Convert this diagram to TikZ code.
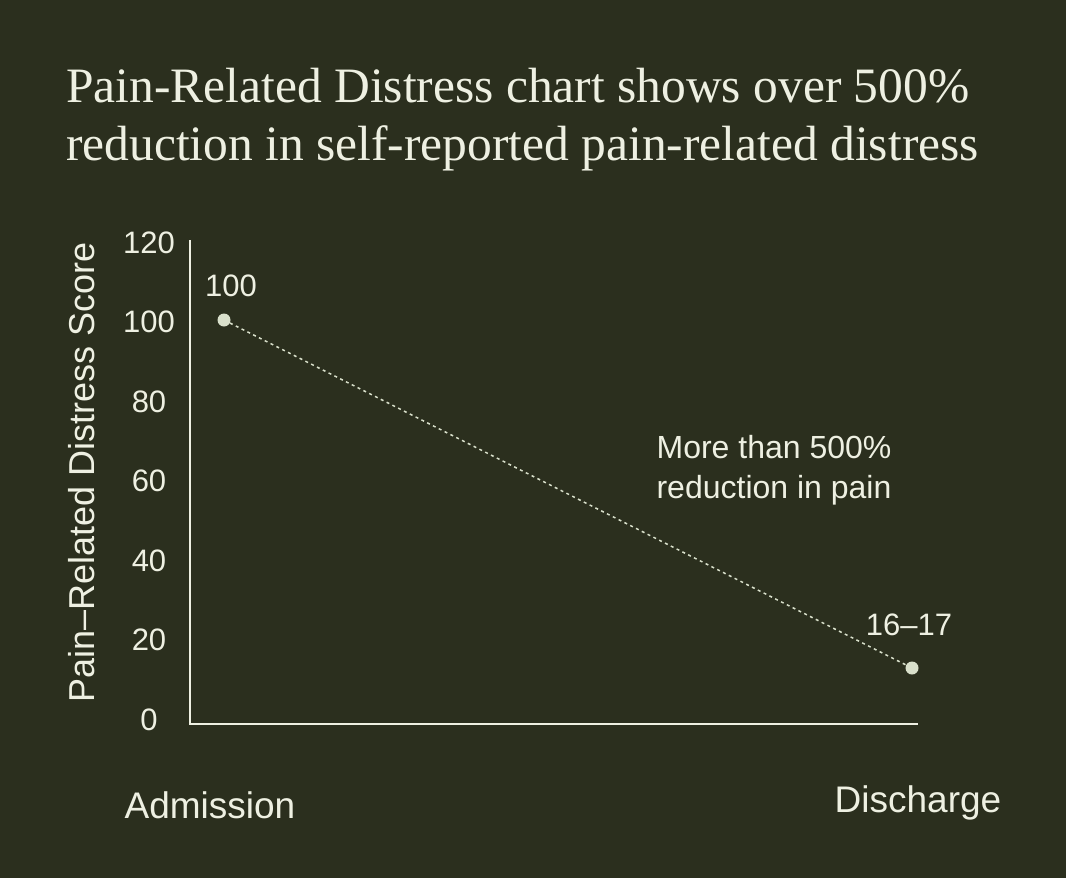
\documentclass[tikz,border=0pt]{standalone}
\usepackage{fontspec}
\setmainfont{Liberation Serif}
\setsansfont{Liberation Sans}
\definecolor{bg}{HTML}{2B2F1E}
\definecolor{fg}{HTML}{EEF0E2}
\definecolor{dot}{HTML}{D9E0CB}
\begin{document}
\begin{tikzpicture}[x=1pt,y=-1pt,
  lbl/.style={text=fg,font=\sffamily\fontsize{31}{34}\selectfont,inner sep=0pt},
  ttl/.style={text=fg,font=\rmfamily\fontsize{49.5}{56}\selectfont,inner sep=0pt,anchor=base west},
  pt/.style={circle,fill=dot,inner sep=0pt,minimum size=13pt}]
\fill[bg] (0,0) rectangle (1066,878);
\useasboundingbox (0,0) rectangle (1066,878);
\node[ttl] (t1) at (66,102) {Pain-Related Distress chart shows over 500\%};
\node[ttl] (t2) at (66,160) {reduction in self-reported pain-related distress};
\coordinate (o) at (190,724);
\coordinate (ytop) at (190,240);
\coordinate (xend) at (918,724);
\draw[fg,line width=2pt] (ytop) -- (o) -- (xend);
\foreach \v/\y in {120/243,100/322,80/402,60/481,40/561,20/640,0/720}
  \node[lbl] (y\v) at (149,\y) {\v};
\node[lbl,rotate=90,font=\sffamily\fontsize{36}{40}\selectfont] (yt) at (82,472) {Pain–Related Distress Score};
\node[pt] (a) at (224,320) {};
\node[pt] (b) at (912,668) {};
\draw[dot,line width=1.5pt,dash pattern=on 3pt off 3.5pt] (a) -- (b);
\node[lbl] (la) at (231,286) {100};
\node[lbl] (lb) at (909,625) {16–17};
\node[lbl,align=center,font=\sffamily\fontsize{32}{40}\selectfont] (ann) at (774,470) {More than 500\%\\reduction in pain};
\node[lbl,font=\sffamily\fontsize{37}{40}\selectfont] (xa) at (210,805) {Admission};
\node[lbl,font=\sffamily\fontsize{37}{40}\selectfont] (xd) at (918,803) {Discharge};
\end{tikzpicture}
\end{document}
